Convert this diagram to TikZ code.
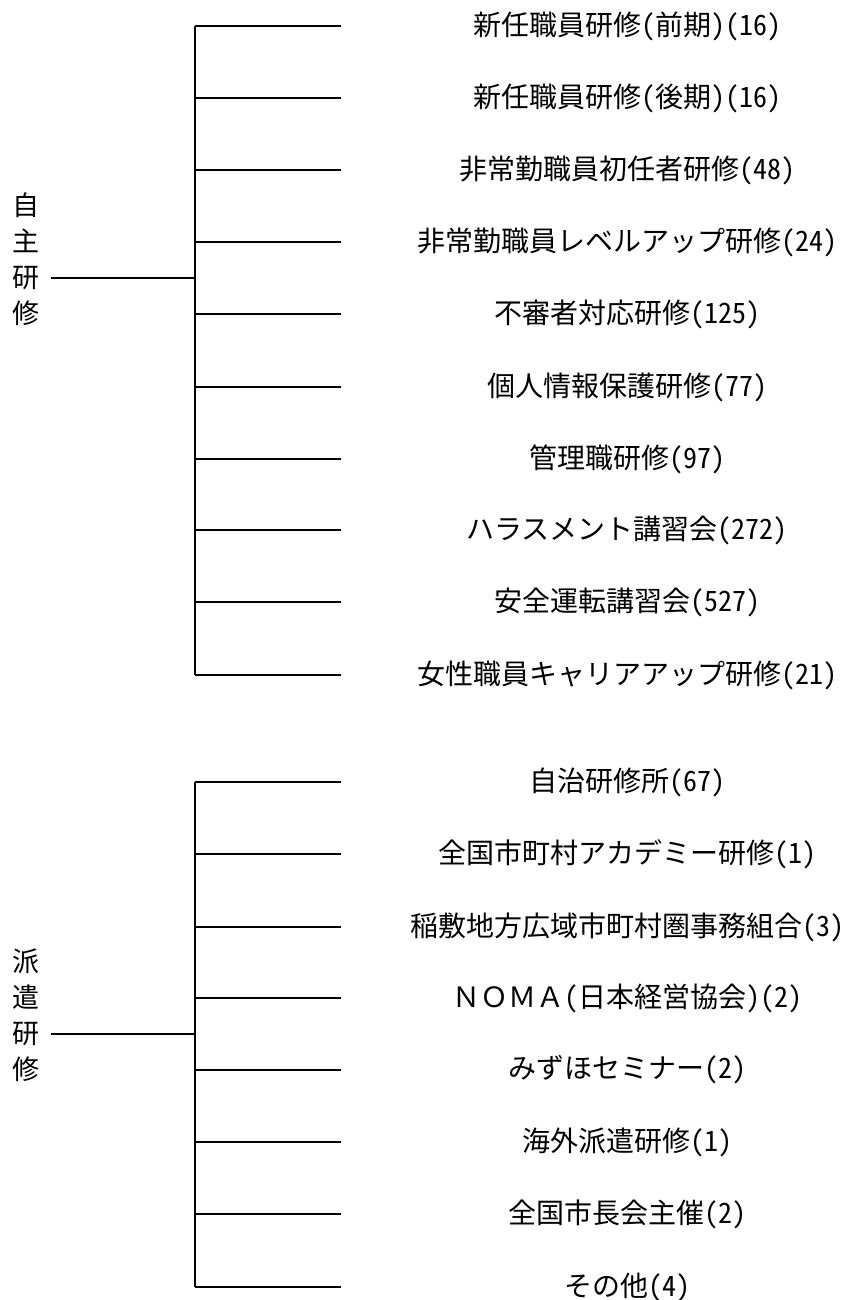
\documentclass[tikz,border=0pt]{standalone}
\usepackage{fontspec}
\newfontfamily\jp[RawFeature=+hwid]{Noto Sans CJK JP}
\newfontfamily\jpwide{Noto Sans CJK JP}
\usepackage{tikz}

\tikzset{
  branch/.style={line width=2.4pt},
  item/.style={font=\jp\fontsize{28}{30}\selectfont, inner sep=0pt},
  grouplabel/.style={font=\jp\fontsize{27}{36}\selectfont, align=center, inner sep=0pt}
}

\begin{document}
\begin{tikzpicture}[x=1pt,y=-1pt]
  \useasboundingbox (0,0) rectangle (860,1300);
  % 自主研修
  \node[grouplabel] (jishu) at (26,259) {自\\主\\研\\修};
  \coordinate (jishuS) at (51,278);
  \coordinate (jishuT) at (195,278);
  \coordinate (jtop) at (195,26);
  \coordinate (jbot) at (195,675);
  \draw[branch] (jishuS) -- (jishuT);
  \draw[branch] (jtop) -- (jbot);
  \node[item] (j1) at (627,26) {新任職員研修(前期)(16)};
  \node[item] (j2) at (627,98) {新任職員研修(後期)(16)};
  \node[item] (j3) at (627,170) {非常勤職員初任者研修(48)};
  \node[item] (j4) at (627,242) {非常勤職員レベルアップ研修(24)};
  \node[item] (j5) at (627,314) {不審者対応研修(125)};
  \node[item] (j6) at (627,387) {個人情報保護研修(77)};
  \node[item] (j7) at (627,459) {管理職研修(97)};
  \node[item] (j8) at (627,530) {ハラスメント講習会(272)};
  \node[item] (j9) at (627,602) {安全運転講習会(527)};
  \node[item] (j10) at (627,675) {女性職員キャリアアップ研修(21)};
  \coordinate (j1l) at (195,26);  \coordinate (j1r) at (341,26);
  \coordinate (j2l) at (195,98);  \coordinate (j2r) at (341,98);
  \coordinate (j3l) at (195,170); \coordinate (j3r) at (341,170);
  \coordinate (j4l) at (195,242); \coordinate (j4r) at (341,242);
  \coordinate (j5l) at (195,314); \coordinate (j5r) at (341,314);
  \coordinate (j6l) at (195,387); \coordinate (j6r) at (341,387);
  \coordinate (j7l) at (195,459); \coordinate (j7r) at (341,459);
  \coordinate (j8l) at (195,530); \coordinate (j8r) at (341,530);
  \coordinate (j9l) at (195,602); \coordinate (j9r) at (341,602);
  \coordinate (j10l) at (195,675); \coordinate (j10r) at (341,675);
  \draw[branch] (j1l) -- (j1r);
  \draw[branch] (j2l) -- (j2r);
  \draw[branch] (j3l) -- (j3r);
  \draw[branch] (j4l) -- (j4r);
  \draw[branch] (j5l) -- (j5r);
  \draw[branch] (j6l) -- (j6r);
  \draw[branch] (j7l) -- (j7r);
  \draw[branch] (j8l) -- (j8r);
  \draw[branch] (j9l) -- (j9r);
  \draw[branch] (j10l) -- (j10r);
  % 派遣研修
  \node[grouplabel] (haken) at (26,1015) {派\\遣\\研\\修};
  \coordinate (hakenS) at (51,1034);
  \coordinate (hakenT) at (195,1034);
  \coordinate (htop) at (195,782);
  \coordinate (hbot) at (195,1287);
  \draw[branch] (hakenS) -- (hakenT);
  \draw[branch] (htop) -- (hbot);
  \node[item] (h1) at (627,782) {自治研修所(67)};
  \node[item] (h2) at (627,854) {全国市町村アカデミー研修(1)};
  \node[item] (h3) at (627,927) {稲敷地方広域市町村圏事務組合(3)};
  \node[item] (h4) at (627,998) {{\jpwide ＮＯＭＡ}(日本経営協会)(2)};
  \node[item] (h5) at (627,1070) {みずほセミナー(2)};
  \node[item] (h6) at (627,1142) {海外派遣研修(1)};
  \node[item] (h7) at (627,1214) {全国市長会主催(2)};
  \node[item] (h8) at (627,1287) {その他(4)};
  \coordinate (h1l) at (195,782);  \coordinate (h1r) at (341,782);
  \coordinate (h2l) at (195,854);  \coordinate (h2r) at (341,854);
  \coordinate (h3l) at (195,927);  \coordinate (h3r) at (341,927);
  \coordinate (h4l) at (195,998);  \coordinate (h4r) at (341,998);
  \coordinate (h5l) at (195,1070); \coordinate (h5r) at (341,1070);
  \coordinate (h6l) at (195,1142); \coordinate (h6r) at (341,1142);
  \coordinate (h7l) at (195,1214); \coordinate (h7r) at (341,1214);
  \coordinate (h8l) at (195,1287); \coordinate (h8r) at (341,1287);
  \draw[branch] (h1l) -- (h1r);
  \draw[branch] (h2l) -- (h2r);
  \draw[branch] (h3l) -- (h3r);
  \draw[branch] (h4l) -- (h4r);
  \draw[branch] (h5l) -- (h5r);
  \draw[branch] (h6l) -- (h6r);
  \draw[branch] (h7l) -- (h7r);
  \draw[branch] (h8l) -- (h8r);
\end{tikzpicture}
\end{document}
